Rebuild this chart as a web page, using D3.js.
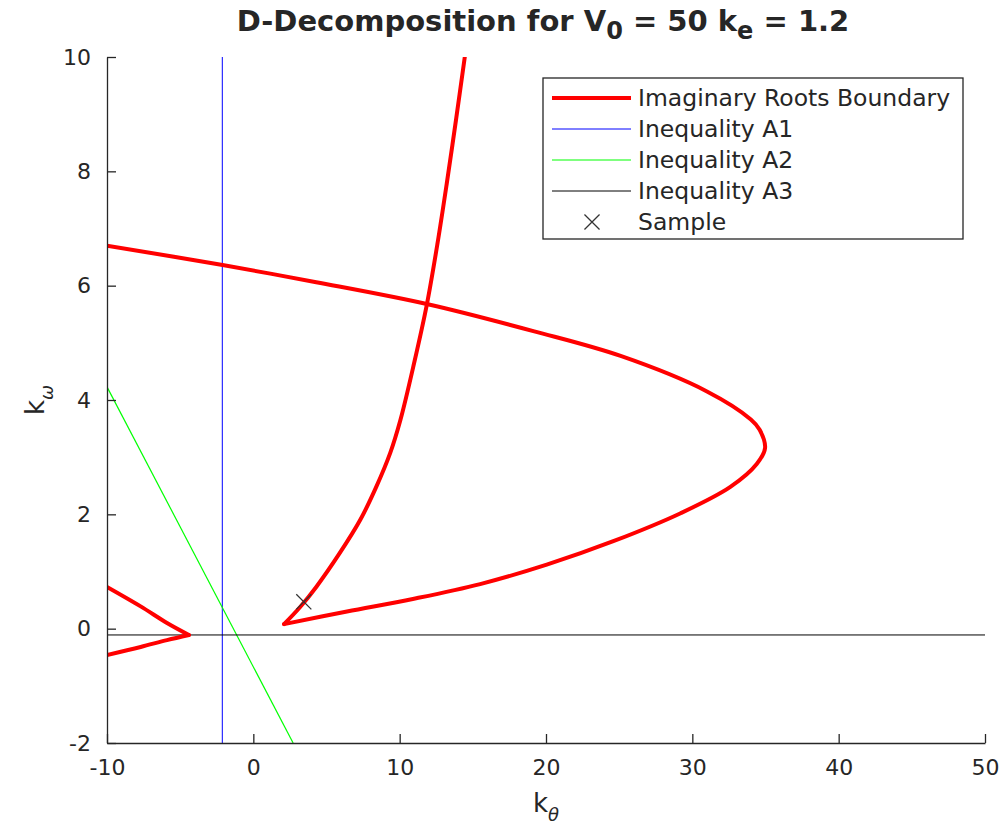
<!DOCTYPE html>
<html>
<head>
<meta charset="utf-8">
<script src="https://cdn.jsdelivr.net/npm/d3@7"></script>
<style>
  body { margin: 0; background: #fff; }
  text { font-family: "DejaVu Sans", sans-serif; fill: #262626; }
</style>
</head>
<body>
<div id="chart"></div>
<script>
// tick values
var xTicks = [-10, 0, 10, 20, 30, 40, 50]
var yTicks = [-2, 0, 2, 4, 6, 8, 10]

// imaginary roots boundary [k_theta, k_omega], ordered by k_omega
var boundaryArm = [
  [2.1, 0.08], [6.4, 0.30], [10.9, 0.52], [15.5, 0.78], [20.05, 1.12],
  [24.6, 1.53], [29.2, 2.02], [32.6, 2.48], [34.4, 2.88], [34.97, 3.16],
  [34.6, 3.48], [34.0, 3.66], [31.0, 4.15], [25.1, 4.77], [19.2, 5.20],
  [12.0, 5.67], [4.3, 6.06], [-2.1, 6.36], [-10.0, 6.70]
]
var boundaryBranch = [
  [2.1, 0.08], [3.2, 0.38], [4.3, 0.73], [5.9, 1.32], [7.3, 1.90],
  [8.4, 2.48], [9.35, 3.07], [10.05, 3.65], [11.0, 4.66], [11.85, 5.66],
  [12.58, 6.73], [13.22, 7.79], [13.85, 8.90], [14.45, 10.0]
]
var boundarySmallUpper = [[-4.4, -0.11], [-5.9, 0.10], [-7.7, 0.39], [-10.0, 0.73]]
var boundarySmallLower = [[-10.0, -0.46], [-7.7, -0.32], [-5.9, -0.20], [-4.4, -0.11]]

// inequalities
var ineqA1 = [[-2.12, -2], [-2.12, 10]]
var ineqA2 = [[-10, 4.23], [2.72, -2]]
var ineqA3 = [[-10, -0.11], [50, -0.11]]
var sample = [[3.45, 0.47]]

var legendLabels = ["Imaginary Roots Boundary", "Inequality A1", "Inequality A2", "Inequality A3", "Sample"]

var widthSvg = 1006
var heightSvg = 832
var margin = { top: 57, left: 107, right: 21, bottom: 89 }
var widthScale = widthSvg - margin.left - margin.right
var heightScale = heightSvg - margin.top - margin.bottom

var svg = d3.select("#chart").append("svg")
  .attr("width", widthSvg)
  .attr("height", heightSvg)

var mainG = svg.append("g")
  .attr("transform", "translate(" + margin.left + "," + margin.top + ")")

var xPositionScale = d3.scaleLinear().domain([-10, 50]).range([0, widthScale])
var yPositionScale = d3.scaleLinear().domain([-2, 10]).range([heightScale, 0])

var line = d3.line()
  .x(function(d) { return xPositionScale(d[0]) })
  .y(function(d) { return yPositionScale(d[1]) })
var smoothLine = d3.line()
  .x(function(d) { return xPositionScale(d[0]) })
  .y(function(d) { return yPositionScale(d[1]) })
  .curve(d3.curveCatmullRom.alpha(0.5))

mainG.append("clipPath").attr("id", "plotClip")
  .append("rect").attr("width", widthScale).attr("height", heightScale)

var plot = mainG.append("g").attr("clip-path", "url(#plotClip)")

plot.append("path").attr("d", line(ineqA1)).attr("fill", "none")
  .attr("stroke", "#0000ff").attr("stroke-width", 1)
plot.append("path").attr("d", line(ineqA2)).attr("fill", "none")
  .attr("stroke", "#00ff00").attr("stroke-width", 1.2)
plot.append("path").attr("d", line(ineqA3)).attr("fill", "none")
  .attr("stroke", "#000000").attr("stroke-width", 1)

;[boundaryArm, boundaryBranch, boundarySmallUpper, boundarySmallLower].forEach(function(pts) {
  plot.append("path")
    .attr("d", smoothLine(pts))
    .attr("fill", "none")
    .attr("stroke", "#ff0000")
    .attr("stroke-width", 4)
    .attr("stroke-linecap", "round")
    .attr("stroke-linejoin", "round")
})

plot.selectAll(".sample")
  .data(sample)
  .enter().append("path")
  .attr("class", "sample")
  .attr("transform", function(d) {
    return "translate(" + xPositionScale(d[0]) + "," + yPositionScale(d[1]) + ")"
  })
  .attr("d", d3.symbol(d3.symbolX, 150))
  .attr("fill", "none")
  .attr("stroke", "#333")
  .attr("stroke-width", 1.3)

// axes
var fmt = function(d) { return String(d) }
var xAxis = d3.axisBottom(xPositionScale).tickValues(xTicks).tickFormat(fmt)
  .tickSizeInner(-9).tickSizeOuter(0).tickPadding(16)
var yAxis = d3.axisLeft(yPositionScale).tickValues(yTicks).tickFormat(fmt)
  .tickSizeInner(-9).tickSizeOuter(0).tickPadding(16)

var gx = mainG.append("g")
  .attr("transform", "translate(0," + heightScale + ")")
  .call(xAxis)
var gy = mainG.append("g").call(yAxis)

;[gx, gy].forEach(function(g) {
  g.select(".domain").attr("stroke", "#262626").attr("stroke-width", 1.3)
  g.selectAll(".tick line").attr("stroke", "#262626").attr("stroke-width", 1.3)
  g.selectAll(".tick text").attr("font-size", 22).attr("fill", "#262626")
    .attr("font-family", "DejaVu Sans, sans-serif")
})
gx.selectAll(".tick text").attr("dy", "0.71em")

// title
var title = svg.append("text")
  .attr("x", 543)
  .attr("y", 31)
  .attr("text-anchor", "middle")
  .attr("font-size", 29)
  .attr("font-weight", "bold")
  .attr("fill", "#000")
title.append("tspan").text("D-Decomposition for V")
title.append("tspan").attr("dy", 8).attr("font-size", 24).text("0")
title.append("tspan").attr("dy", -8).text(" = 50 k")
title.append("tspan").attr("dy", 8).attr("font-size", 24).text("e")
title.append("tspan").attr("dy", -8).text(" = 1.2")

// axis labels
var xLabel = svg.append("text")
  .attr("x", 546)
  .attr("y", 812)
  .attr("text-anchor", "middle")
  .attr("font-size", 26)
xLabel.append("tspan").text("k")
xLabel.append("tspan").attr("dy", 9).attr("font-size", 18).attr("font-style", "italic").text("θ")

var yLabel = svg.append("text")
  .attr("transform", "translate(44,400) rotate(-90)")
  .attr("text-anchor", "middle")
  .attr("font-size", 26)
yLabel.append("tspan").text("k")
yLabel.append("tspan").attr("dy", 9).attr("font-size", 18).attr("font-style", "italic").text("ω")

// legend
var legend = svg.append("g").attr("transform", "translate(543,78)")
legend.append("rect")
  .attr("width", 420).attr("height", 161)
  .attr("fill", "#fff").attr("stroke", "#262626").attr("stroke-width", 1.3)

var legendStyles = [
  { color: "#ff0000", width: 4 },
  { color: "#0000ff", width: 1 },
  { color: "#00ff00", width: 1.2 },
  { color: "#000000", width: 1 },
  null
]
legendLabels.forEach(function(label, i) {
  var yy = 20 + i * 31
  var s = legendStyles[i]
  if (s) {
    legend.append("line")
      .attr("x1", 9).attr("x2", 88).attr("y1", yy).attr("y2", yy)
      .attr("stroke", s.color).attr("stroke-width", s.width)
  } else {
    legend.append("path")
      .attr("transform", "translate(" + 49 + "," + yy + ")")
      .attr("d", d3.symbol(d3.symbolX, 150))
      .attr("fill", "none").attr("stroke", "#333").attr("stroke-width", 1.3)
  }
  legend.append("text")
    .attr("x", 95).attr("y", yy)
    .attr("dy", "0.36em")
    .attr("font-size", 23.5)
    .text(label)
})
</script>
</body>
</html>
